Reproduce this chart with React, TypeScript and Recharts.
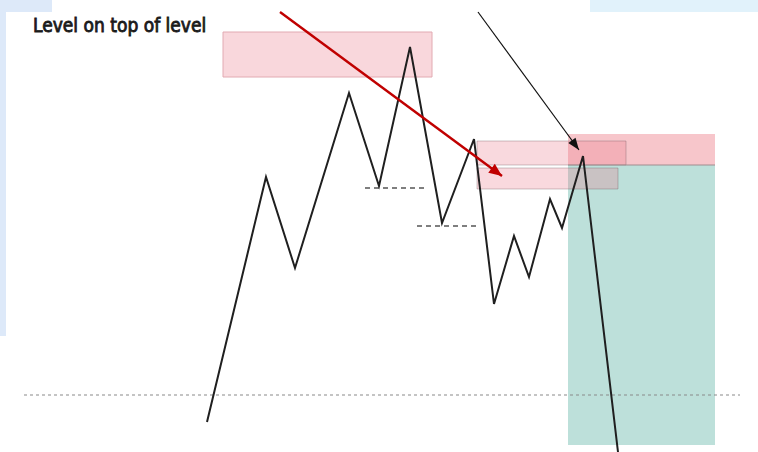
import React from 'react';
import {
  ComposedChart,
  Line,
  XAxis,
  YAxis,
  ReferenceArea,
  ReferenceLine,
} from 'recharts';

// price path, in picture units (y grows downward)
const pathX = [207, 266, 295, 349, 379, 410, 442, 474, 494, 514, 529, 550, 562, 583, 618];
const pathY = [422, 177, 268, 93, 186, 47, 223, 139, 304, 236, 277, 199, 228, 156, 452];

const pricePath = pathX.map((x, i) => ({ x, y: pathY[i] }));

// zones: [x1, x2, y1, y2]
const targetZone = [568, 715, 165, 445];
const stopZone = [568, 715, 134, 165];
const upperLevel = [477, 626, 141, 165];
const lowerLevel = [477, 618, 168, 189];
const topLevel = [223, 432, 32, 77];

// dashed levels: [x1, x2, y]
const lowLevels = [
  [365, 428, 188],
  [417, 480, 226],
];
const baseLine = [24, 740, 395];

const redArrow = [
  { x: 280, y: 12 },
  { x: 502, y: 176 },
];
const blackArrow = [
  { x: 478, y: 12 },
  { x: 579, y: 150 },
];

function arrowDot(data: { x: number; y: number }[], color: string, len: number, wid: number) {
  const a = data[0];
  const b = data[data.length - 1];
  const ang = Math.atan2(b.y - a.y, b.x - a.x);
  return (props: any) => {
    const { cx, cy, index } = props;
    if (index !== data.length - 1) return <g key={`d-${index}`} />;
    const c = Math.cos(ang);
    const s = Math.sin(ang);
    const bx = cx - len * c;
    const by = cy - len * s;
    const pts = [
      `${cx},${cy}`,
      `${bx + (wid / 2) * s},${by - (wid / 2) * c}`,
      `${bx - (wid / 2) * s},${by + (wid / 2) * c}`,
    ].join(' ');
    return <polygon key={`d-${index}`} points={pts} fill={color} />;
  };
}

export default function App() {
  return (
    <div
      style={{
        position: 'absolute',
        left: 0,
        top: 0,
        width: 758,
        height: 452,
        background: '#ffffff',
        overflow: 'hidden',
      }}
    >
      <div style={{ position: 'absolute', left: 0, top: 0, width: 52, height: 12, background: '#dde9f9' }} />
      <div style={{ position: 'absolute', left: 0, top: 0, width: 6, height: 336, background: '#dde9f9' }} />
      <div style={{ position: 'absolute', left: 590, top: 0, width: 168, height: 12, background: '#e1f2fb' }} />
      <div
        style={{
          position: 'absolute',
          left: 33,
          top: 16,
          fontFamily: '"DejaVu Sans Condensed", "DejaVu Sans", sans-serif',
          fontWeight: 'normal',
          fontSize: 19,
          lineHeight: 1,
          color: '#1a1a1a',
          WebkitTextStroke: '0.8px #1a1a1a',
          whiteSpace: 'nowrap',
        }}
      >
        Level on top of level
      </div>
      <div style={{ position: 'absolute', left: 0, top: 0 }}>
        <ComposedChart width={758} height={452} margin={{ top: 0, right: 0, bottom: 0, left: 0 }}>
          <XAxis type="number" dataKey="x" domain={[0, 758]} hide allowDataOverflow />
          <YAxis type="number" dataKey="y" domain={[0, 452]} reversed hide allowDataOverflow />

          <ReferenceArea
            x1={targetZone[0]}
            x2={targetZone[1]}
            y1={targetZone[2]}
            y2={targetZone[3]}
            fill="#bde0da"
            fillOpacity={1}
          />
          <ReferenceArea
            x1={stopZone[0]}
            x2={stopZone[1]}
            y1={stopZone[2]}
            y2={stopZone[3]}
            fill="#f7c6cb"
            fillOpacity={1}
          />
          <ReferenceArea
            x1={upperLevel[0]}
            x2={upperLevel[1]}
            y1={upperLevel[2]}
            y2={upperLevel[3]}
            fill="#eb7888"
            fillOpacity={0.28}
            stroke="#6e5a5c"
            strokeOpacity={0.35}
          />
          <ReferenceArea
            x1={lowerLevel[0]}
            x2={lowerLevel[1]}
            y1={lowerLevel[2]}
            y2={lowerLevel[3]}
            fill="#eb7888"
            fillOpacity={0.28}
            stroke="#6e5a5c"
            strokeOpacity={0.35}
          />
          <ReferenceArea
            x1={topLevel[0]}
            x2={topLevel[1]}
            y1={topLevel[2]}
            y2={topLevel[3]}
            fill="#f9d7dc"
            fillOpacity={1}
            stroke="#e2aab2"
            strokeOpacity={1}
          />
          <ReferenceLine
            segment={[
              { x: stopZone[0], y: stopZone[3] },
              { x: stopZone[1], y: stopZone[3] },
            ]}
            stroke="#a08c8e"
            strokeWidth={1}
          />

          {lowLevels.map((l, i) => (
            <ReferenceLine
              key={`lvl-${i}`}
              segment={[
                { x: l[0], y: l[2] },
                { x: l[1], y: l[2] },
              ]}
              stroke="#555555"
              strokeWidth={1.5}
              strokeDasharray="5 4"
            />
          ))}
          <ReferenceLine
            segment={[
              { x: baseLine[0], y: baseLine[2] },
              { x: baseLine[1], y: baseLine[2] },
            ]}
            stroke="#8a8a8a"
            strokeWidth={1.2}
            strokeDasharray="3 3"
          />

          <Line
            data={pricePath}
            dataKey="y"
            type="linear"
            stroke="#1f1f1f"
            strokeWidth={2}
            dot={false}
            activeDot={false}
            isAnimationActive={false}
          />
          <Line
            data={redArrow}
            dataKey="y"
            type="linear"
            stroke="#c00000"
            strokeWidth={2.4}
            dot={arrowDot(redArrow, '#c00000', 13, 11)}
            activeDot={false}
            isAnimationActive={false}
          />
          <Line
            data={blackArrow}
            dataKey="y"
            type="linear"
            stroke="#111111"
            strokeWidth={1.2}
            dot={arrowDot(blackArrow, '#111111', 12, 9)}
            activeDot={false}
            isAnimationActive={false}
          />
        </ComposedChart>
      </div>
    </div>
  );
}
